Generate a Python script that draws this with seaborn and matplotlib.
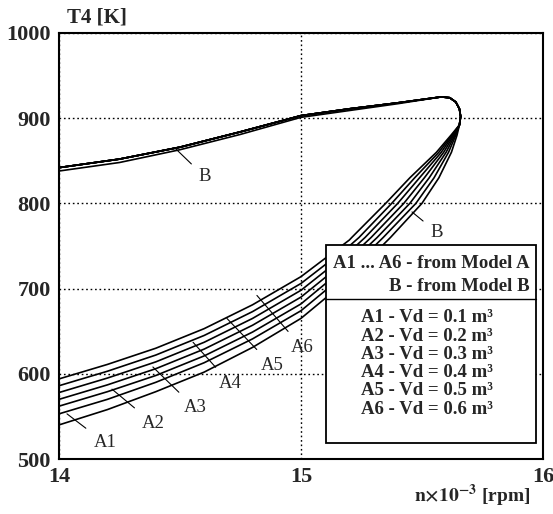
import matplotlib
matplotlib.use("Agg")
import matplotlib.pyplot as plt
import pandas as pd
import seaborn as sns
from matplotlib.patches import Rectangle

# Lower branch: temperature on a shared speed grid
N_LOW = [14.0, 14.2, 14.4, 14.6, 14.8, 15.0, 15.2]
T_LOW_A1 = [553, 570, 590, 613, 641, 674, 721]
T_LOW_A2 = [562, 579, 598, 621, 649, 682, 729]
T_LOW_A3 = [570, 587, 606, 629, 657, 690, 736]
T_LOW_A4 = [578, 595, 614, 637, 665, 698, 743]
T_LOW_A5 = [586, 603, 622, 645, 673, 706, 750]
T_LOW_A6 = [594, 611, 630, 653, 681, 714, 757]
T_LOW_B = [540, 558, 579, 602, 631, 665, 712]

# Steep part: speed on a shared temperature grid
T_STEEP = [760, 800, 830, 860, 880]
N_STEEP_A1 = [15.340, 15.475, 15.550, 15.610, 15.640]
N_STEEP_A2 = [15.315, 15.450, 15.530, 15.600, 15.636]
N_STEEP_A3 = [15.290, 15.425, 15.510, 15.590, 15.632]
N_STEEP_A4 = [15.265, 15.400, 15.490, 15.580, 15.628]
N_STEEP_A5 = [15.240, 15.375, 15.470, 15.570, 15.624]
N_STEEP_A6 = [15.210, 15.350, 15.450, 15.560, 15.620]
N_STEEP_B = [15.370, 15.500, 15.570, 15.622, 15.645]

# Turning region near maximum speed
TURN_N = [15.655, 15.660, 15.655, 15.640, 15.615]
TURN_T = [892, 902, 911, 919, 924]

# Upper branch back towards low speed
UPPER_N = [15.58, 15.4, 15.2, 15.0, 14.75, 14.5, 14.25, 14.0]
UPPER_T_A = [925, 918, 911, 903, 884, 866, 852, 842]
UPPER_T_B = [925, 917, 909, 901, 881, 863, 848, 838]

CURVES = {
    "A1": (T_LOW_A1, N_STEEP_A1, UPPER_T_A),
    "A2": (T_LOW_A2, N_STEEP_A2, UPPER_T_A),
    "A3": (T_LOW_A3, N_STEEP_A3, UPPER_T_A),
    "A4": (T_LOW_A4, N_STEEP_A4, UPPER_T_A),
    "A5": (T_LOW_A5, N_STEEP_A5, UPPER_T_A),
    "A6": (T_LOW_A6, N_STEEP_A6, UPPER_T_A),
    "B": (T_LOW_B, N_STEEP_B, UPPER_T_B),
}

LEGEND_HEAD = ["A1 ... A6 - from Model A", "B - from Model B"]
LEGEND_VD = [0.1, 0.2, 0.3, 0.4, 0.5, 0.6]

# curve label: (text position, leader start)
LABELS = [
    ("A1", (14.19, 519), (14.033, 553)),
    ("A2", (14.388, 542), (14.219, 582)),
    ("A3", (14.562, 560), (14.388, 608)),
    ("A4", (14.707, 589), (14.554, 637)),
    ("A5", (14.88, 610), (14.694, 665)),
    ("A6", (15.004, 631), (14.818, 692)),
    ("B", (14.603, 831), (14.479, 865)),
    ("B", (15.562, 766), (15.459, 790)),
]

rows = []
for name, (t_low, n_steep, t_up) in CURVES.items():
    ns = N_LOW + n_steep + TURN_N + UPPER_N
    ts = t_low + T_STEEP + TURN_T + t_up
    for i, (n, t) in enumerate(zip(ns, ts)):
        rows.append({"curve": name, "step": i, "n": n, "T": t})
df = pd.DataFrame(rows)

sns.set_style("white")
plt.rcParams["font.family"] = ["Liberation Serif", "DejaVu Serif"]
plt.rcParams["mathtext.fontset"] = "stix"

fig = plt.figure(figsize=(5.53, 5.14), dpi=100)
ax = fig.add_axes([0.1067, 0.107, 0.875, 0.8288])

ax.set_xlim(14, 16)
ax.set_ylim(500, 1000)
ax.set_xticks([14, 15, 16])
ax.set_yticks([500, 600, 700, 800, 900, 1000])
ax.grid(True, color="black", linestyle=(0, (1.2, 2.0)), linewidth=1.0)
ax.set_axisbelow(True)

sns.lineplot(data=df, x="n", y="T", units="curve", estimator=None, sort=False,
             color="black", linewidth=1.2, legend=False, ax=ax, zorder=3)

for text, txy, sxy in LABELS:
    ax.annotate(text, xy=sxy, xytext=txy, ha="center", va="center",
                fontsize=13.5, zorder=4,
                arrowprops=dict(arrowstyle="-", color="black", lw=0.8,
                                shrinkA=4, shrinkB=0))

for s in ax.spines.values():
    s.set_color("black")
    s.set_linewidth(1.5)
ax.tick_params(length=0, labelsize=16, pad=6)
for lab in ax.get_xticklabels() + ax.get_yticklabels():
    lab.set_fontweight("bold")
ax.set_xlabel("")
ax.set_ylabel("")

# legend box
ax.add_patch(Rectangle((0.552, 0.038), 0.434, 0.464, transform=ax.transAxes,
                       facecolor="white", edgecolor="black", linewidth=1.3,
                       zorder=5))
ax.plot([0.552, 0.986], [0.376, 0.376], transform=ax.transAxes,
        color="black", lw=1.0, zorder=6)
for y, line in zip([0.460, 0.404], LEGEND_HEAD):
    ax.text(0.973, y, line, transform=ax.transAxes, ha="right", va="center",
            fontsize=13.5, fontweight="bold", zorder=7)
for i, (y, vd) in enumerate(zip([0.331, 0.288, 0.246, 0.203, 0.160, 0.117],
                                LEGEND_VD)):
    ax.text(0.624, y, f"A{i + 1} - Vd = {vd} m³", transform=ax.transAxes,
            ha="left", va="center", fontsize=13.5, fontweight="bold", zorder=7)

fig.text(0.176, 0.965, "T4 [K]", ha="center", va="center", fontsize=15,
         fontweight="bold")
fig.text(0.96, 0.035, r"$\mathbf{n{\times}10^{-3}}$ [rpm]", ha="right",
         va="center", fontsize=14, fontweight="bold")

fig.savefig("out.png", dpi=100)
